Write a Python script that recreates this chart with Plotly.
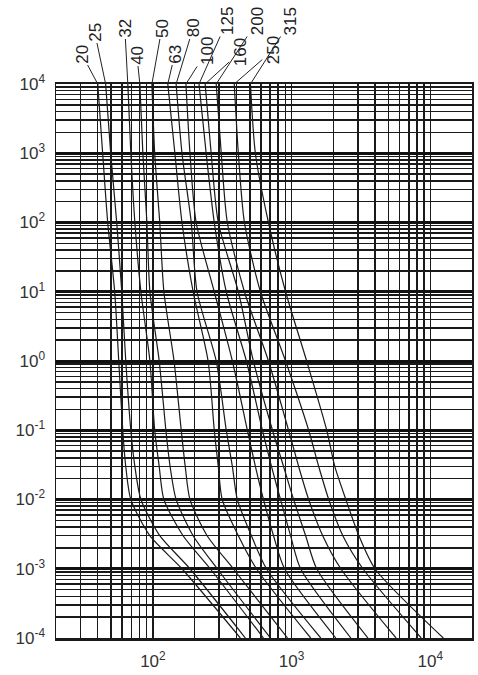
import numpy as np
import plotly.graph_objects as go

# ---------------- data ----------------
ratings = ["20", "25", "32", "40", "50", "63", "80", "100", "125", "160", "200", "250", "315"]
times = [1e4, 1e3, 1e2, 1e1, 1, 0.1, 0.03, 0.01, 0.003, 0.001, 1e-4]

i_20 = [40, 43.4, 47.2, 53, 56.7, 60.6, 63.7, 69.3, 95, 162, 427]
i_25 = [45.6, 49.6, 54.8, 59.6, 63.7, 69.3, 74.1, 81.9, 112, 185, 464]
i_32 = [65.9, 69.3, 74.1, 81.9, 95.1, 103, 111, 120, 165, 259, 627]
i_40 = [80.5, 84.6, 90.5, 95.1, 111, 124, 133, 147, 195, 291, 704]
i_50 = [98.3, 103, 112, 120, 142, 160, 171, 185, 246, 380, 935]
i_63 = [128, 144, 162, 195, 250, 277, 296, 316, 413, 558, 1373]
i_80 = [147, 162, 189, 208, 286, 338, 374, 406, 513, 659, 1622]
i_100 = [173, 185, 205, 277, 374, 480, 548, 627, 741, 890, 2084]
i_125 = [215, 242, 277, 338, 472, 616, 716, 832, 983, 1162, 2676]
i_160 = [238, 263, 296, 413, 530, 728, 875, 1034, 1263, 1518, 3553]
i_200 = [286, 311, 344, 457, 681, 951, 1124, 1328, 1677, 2265, 5669]
i_250 = [386, 413, 457, 596, 905, 1328, 1569, 1854, 2342, 3270, 8605]
i_315 = [505, 548, 681, 905, 1284, 1793, 2049, 2462, 3058, 3995, 12420]

currents = [i_20, i_25, i_32, i_40, i_50, i_63, i_80, i_100, i_125, i_160, i_200, i_250, i_315]

x_major = [100, 1000, 10000]
x_major_text = ["10<sup>2</sup>", "10<sup>3</sup>", "10<sup>4</sup>"]
y_major = [1e-4, 1e-3, 1e-2, 1e-1, 1, 10, 100, 1000, 10000]
y_major_text = ["10<sup>-4</sup>", "10<sup>-3</sup>", "10<sup>-2</sup>", "10<sup>-1</sup>",
                "10<sup>0</sup>", "10<sup>1</sup>", "10<sup>2</sup>", "10<sup>3</sup>", "10<sup>4</sup>"]
x_minor = [m * d for d in (10, 100, 1000) for m in range(2, 10) if m * d > 20]
y_minor = [m * 10.0 ** e for e in range(-4, 4) for m in range(2, 10)]

# label placement (pixel offsets of label centre from the curve's top end)
label_dx = [-16, -11, -3, -3, 10, 7, 17, 21, 28, 35, 41, 39, 40]
label_dy = [-30, -52, -56, -29, -56, -30, -56, -33, -63, -32, -63, -34, -63]

# ---------------- figure ----------------
fig = go.Figure()
for name, cur in zip(ratings, currents):
    fig.add_trace(go.Scatter(
        x=cur, y=times, mode="lines", name=name,
        line=dict(color="#1a1a1a", width=1.2, shape="spline", smoothing=0.7),
        showlegend=False, hoverinfo="skip"))

for name, cur, dx, dy in zip(ratings, currents, label_dx, label_dy):
    fig.add_annotation(
        x=np.log10(cur[0]), y=np.log10(times[0]), xref="x", yref="y",
        text=name, textangle=-90, showarrow=True, arrowhead=0, arrowwidth=1,
        arrowcolor="#222", ax=dx, ay=dy, standoff=0, startstandoff=0,
        font=dict(family="Liberation Sans, Arial", size=17, color="#222"))

font_ax = dict(family="Liberation Sans, Arial", size=17, color="#333")

fig.update_xaxes(
    type="log", range=[np.log10(20), np.log10(20000)], automargin=False,
    tickmode="array", tickvals=x_major, ticktext=x_major_text,
    ticks="", tickfont=font_ax, ticklabelstandoff=6,
    showgrid=True, gridcolor="#1a1a1a", gridwidth=1.5,
    minor=dict(tickmode="array", tickvals=x_minor, showgrid=True,
               gridcolor="#1a1a1a", gridwidth=1.5, ticks=""),
    showline=True, mirror=True, linecolor="#1a1a1a", linewidth=2.5,
    zeroline=False)

fig.update_yaxes(
    type="log", range=[-4, 4], automargin=False,
    tickmode="array", tickvals=y_major, ticktext=y_major_text,
    ticks="", tickfont=font_ax, ticklabelstandoff=6,
    showgrid=True, gridcolor="#111", gridwidth=3,
    minor=dict(tickmode="array", tickvals=y_minor, showgrid=True,
               gridcolor="#1a1a1a", gridwidth=1.5, ticks=""),
    showline=True, mirror=True, linecolor="#1a1a1a", linewidth=1.5,
    zeroline=False)

fig.update_layout(
    width=478, height=675,
    margin=dict(l=56, r=6, t=84, b=37, autoexpand=False),
    plot_bgcolor="white", paper_bgcolor="white",
    showlegend=False)

fig.write_html("out.html", config={"displayModeBar": False, "staticPlot": True},
               post_script="document.body.style.margin='0';document.body.style.overflow='hidden';")
